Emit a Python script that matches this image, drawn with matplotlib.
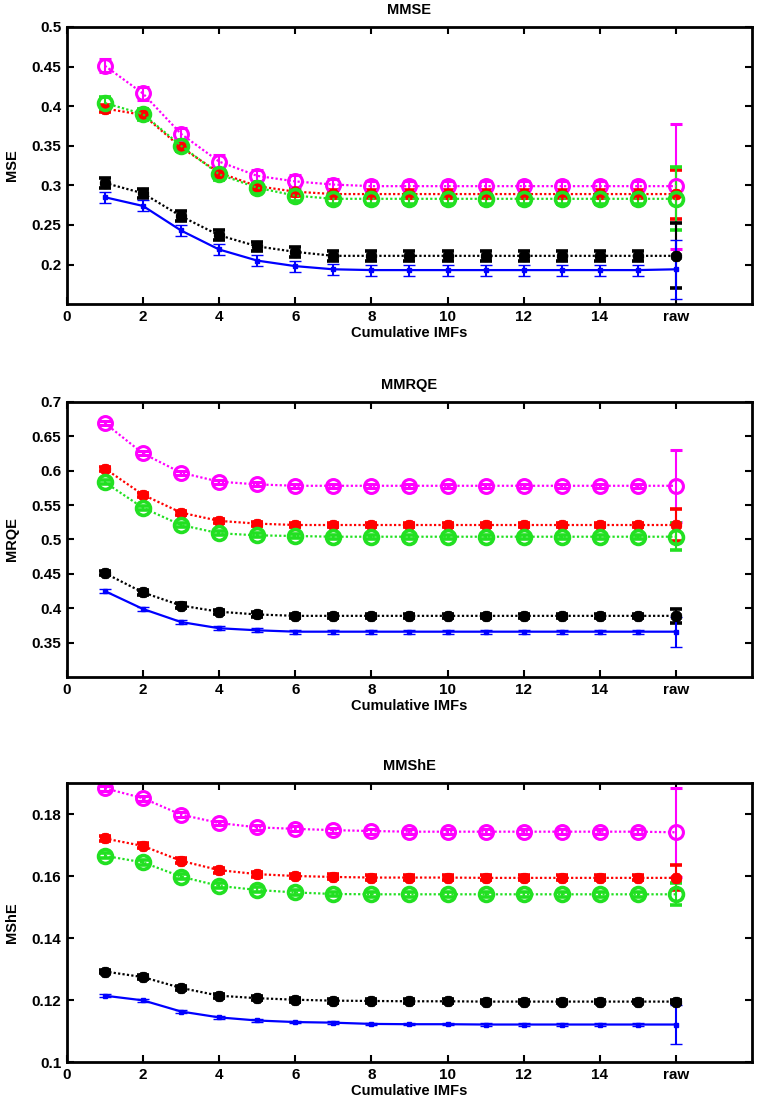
import numpy as np
import matplotlib
matplotlib.use('Agg')
import matplotlib.pyplot as plt

plt.rcParams['font.family'] = ['Liberation Sans', 'DejaVu Sans']
plt.rcParams['font.weight'] = 'bold'

# x positions: 1..15 cumulative IMFs, 16 = raw
x = np.arange(1, 17)
xticks = [0, 2, 4, 6, 8, 10, 12, 14, 16]
xticklabels = ['0', '2', '4', '6', '8', '10', '12', '14', 'raw']

# ---- MMSE ----
mse_mag = [0.451, 0.416, 0.365, 0.330, 0.312, 0.305, 0.301, 0.299, 0.299, 0.299, 0.299, 0.299, 0.299, 0.299, 0.299, 0.299]
mse_mag_err = [0.008, 0.008, 0.008, 0.008, 0.008, 0.008, 0.007, 0.007, 0.007, 0.007, 0.007, 0.007, 0.007, 0.007, 0.007, 0.079]
mse_red = [0.397, 0.389, 0.348, 0.316, 0.299, 0.292, 0.289, 0.289, 0.289, 0.289, 0.289, 0.289, 0.289, 0.289, 0.289, 0.289]
mse_red_err = [0.005, 0.005, 0.005, 0.005, 0.005, 0.005, 0.005, 0.005, 0.005, 0.005, 0.005, 0.005, 0.005, 0.005, 0.005, 0.031]
mse_green = [0.404, 0.390, 0.350, 0.314, 0.297, 0.287, 0.283, 0.283, 0.283, 0.283, 0.283, 0.283, 0.283, 0.283, 0.283, 0.283]
mse_green_err = [0.007, 0.007, 0.007, 0.007, 0.007, 0.007, 0.007, 0.007, 0.007, 0.007, 0.007, 0.007, 0.007, 0.007, 0.007, 0.040]
mse_black = [0.303, 0.290, 0.261, 0.237, 0.223, 0.216, 0.211, 0.211, 0.211, 0.211, 0.211, 0.211, 0.211, 0.211, 0.211, 0.211]
mse_black_err = [0.006, 0.006, 0.006, 0.006, 0.006, 0.006, 0.006, 0.006, 0.006, 0.006, 0.006, 0.006, 0.006, 0.006, 0.006, 0.041]
mse_blue = [0.285, 0.274, 0.243, 0.219, 0.205, 0.198, 0.194, 0.193, 0.193, 0.193, 0.193, 0.193, 0.193, 0.193, 0.193, 0.194]
mse_blue_err = [0.007, 0.007, 0.007, 0.007, 0.007, 0.007, 0.007, 0.007, 0.007, 0.007, 0.007, 0.007, 0.007, 0.007, 0.007, 0.037]

# ---- MMRQE ----
mrqe_mag = [0.669, 0.625, 0.597, 0.584, 0.580, 0.578, 0.578, 0.578, 0.578, 0.578, 0.578, 0.578, 0.578, 0.578, 0.578, 0.578]
mrqe_mag_err = [0.003] * 15 + [0.052]
mrqe_red = [0.603, 0.565, 0.539, 0.527, 0.523, 0.521, 0.521, 0.521, 0.521, 0.521, 0.521, 0.521, 0.521, 0.521, 0.521, 0.521]
mrqe_red_err = [0.003] * 15 + [0.023]
mrqe_green = [0.583, 0.546, 0.521, 0.509, 0.506, 0.505, 0.504, 0.504, 0.504, 0.504, 0.504, 0.504, 0.504, 0.504, 0.504, 0.504]
mrqe_green_err = [0.003] * 15 + [0.020]
mrqe_black = [0.451, 0.423, 0.404, 0.395, 0.391, 0.389, 0.389, 0.389, 0.389, 0.389, 0.389, 0.389, 0.389, 0.389, 0.389, 0.389]
mrqe_black_err = [0.003] * 15 + [0.010]
mrqe_blue = [0.425, 0.399, 0.380, 0.371, 0.368, 0.366, 0.366, 0.366, 0.366, 0.366, 0.366, 0.366, 0.366, 0.366, 0.366, 0.366]
mrqe_blue_err = [0.003] * 15 + [0.022]

# ---- MMShE ----
mshe_mag = [0.1883, 0.1851, 0.1798, 0.1771, 0.1757, 0.1752, 0.1748, 0.1745, 0.1743, 0.1743, 0.1743, 0.1743, 0.1743, 0.1743, 0.1743, 0.1741]
mshe_mag_err = [0.0008] * 15 + [0.0143]
mshe_red = [0.1721, 0.1697, 0.1649, 0.1619, 0.1606, 0.1600, 0.1597, 0.1595, 0.1595, 0.1595, 0.1594, 0.1594, 0.1594, 0.1594, 0.1594, 0.1594]
mshe_red_err = [0.0008] * 15 + [0.0040]
mshe_green = [0.1665, 0.1644, 0.1598, 0.1568, 0.1555, 0.1547, 0.1542, 0.1541, 0.1541, 0.1541, 0.1541, 0.1541, 0.1541, 0.1541, 0.1541, 0.1541]
mshe_green_err = [0.0008] * 15 + [0.0035]
mshe_black = [0.1292, 0.1274, 0.1239, 0.1214, 0.1206, 0.1201, 0.1198, 0.1197, 0.1196, 0.1196, 0.1195, 0.1195, 0.1195, 0.1195, 0.1195, 0.1195]
mshe_black_err = [0.0006] * 15 + [0.0006]
mshe_blue = [0.1214, 0.1199, 0.1163, 0.1144, 0.1134, 0.1129, 0.1127, 0.1123, 0.1122, 0.1122, 0.1121, 0.1121, 0.1121, 0.1121, 0.1121, 0.1121]
mshe_blue_err = [0.0004] * 15 + [0.0064]

MAG, RED, GREEN, BLACK, BLUE = '#ff00ff', '#ff0000', '#22e022', '#000000', '#0000ff'
dots = (0, (1, 1))
asterisk = (8, 2, 0)

panels = [
    ('MMSE', 'MSE', (0.15, 0.5), np.arange(0.2, 0.501, 0.05),
     [(mse_mag, mse_mag_err), (mse_red, mse_red_err), (mse_green, mse_green_err),
      (mse_black, mse_black_err), (mse_blue, mse_blue_err)],
     [0.726, 0.9757]),
    ('MMRQE', 'MRQE', (0.3, 0.7), np.arange(0.35, 0.701, 0.05),
     [(mrqe_mag, mrqe_mag_err), (mrqe_red, mrqe_red_err), (mrqe_green, mrqe_green_err),
      (mrqe_black, mrqe_black_err), (mrqe_blue, mrqe_blue_err)],
     [0.390, 0.638]),
    ('MMShE', 'MShE', (0.1, 0.19), np.arange(0.1, 0.181, 0.02),
     [(mshe_mag, mshe_mag_err), (mshe_red, mshe_red_err), (mshe_green, mshe_green_err),
      (mshe_black, mshe_black_err), (mshe_blue, mshe_blue_err)],
     [0.0432, 0.2946]),
]

styles = [
    dict(color=MAG, ls=dots, marker='o', mfc='none', ms=10, mew=2.2),
    dict(color=RED, ls=dots, marker=asterisk, mfc=RED, ms=8, mew=2.6),
    dict(color=GREEN, ls=dots, marker='o', mfc='none', ms=10, mew=2.6),
    dict(color=BLACK, ls=dots, marker=asterisk, mfc=BLACK, ms=8, mew=2.6),
    dict(color=BLUE, ls='-', marker='s', mfc=BLUE, ms=3, mew=1),
]

fig = plt.figure(figsize=(7.59, 11.1), dpi=100)

for title, ylab, ylim, yticks, series, (b, t) in panels:
    ax = fig.add_axes([0.088, b, 0.991 - 0.088, t - b])
    for (vals, errs), st in zip(series, styles):
        ax.errorbar(x, vals, yerr=errs, capsize=4, elinewidth=1.5, capthick=1.8,
                    lw=1.6, **st)
    ax.set_xlim(0, 18)
    ax.set_ylim(*ylim)
    ax.set_xticks(xticks)
    ax.set_xticklabels(xticklabels)
    ax.set_yticks(yticks)
    ax.set_yticklabels(['%g' % round(v, 3) for v in yticks])
    ax.tick_params(direction='in', top=True, right=True, length=5, width=1.5,
                   labelsize=11, pad=4)
    for lab in ax.get_xticklabels() + ax.get_yticklabels():
        lab.set_fontweight('bold')
    for sp in ax.spines.values():
        sp.set_linewidth(2)
    ax.set_title(title, fontsize=10.5, fontweight='bold', pad=9)
    ax.set_xlabel('Cumulative IMFs', fontsize=10.5, fontweight='bold', labelpad=2)
    ax.set_ylabel(ylab, fontsize=10.5, fontweight='bold', labelpad=9)

fig.savefig('out.png', dpi=100)
